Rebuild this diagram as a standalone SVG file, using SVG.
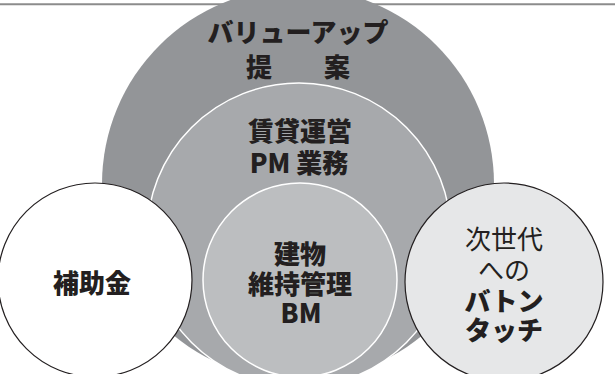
<svg xmlns="http://www.w3.org/2000/svg" width="615" height="374" viewBox="0 0 615 374">
<style>
.t{font-family:"Noto Sans CJK JP","Noto Sans",sans-serif;font-size:26px;font-weight:900;fill:#231f20;text-anchor:middle;dominant-baseline:central}
.r{font-weight:normal}
.ring{stroke:#ffffff;stroke-width:1.5}
.side{stroke:#231f20;stroke-width:1.2}
</style>
<rect width="615" height="374" fill="#ffffff"/>
<line x1="0" y1="4.3" x2="615" y2="4.3" stroke="#8c8c8c" stroke-width="2"/>
<g id="connectors"/>
<g id="value-up">
<circle cx="298" cy="184" r="196" fill="#939598"/>
<text class="t" x="298" y="30">バリューアップ</text>
<text class="t" x="298" y="65">提　　案</text>
</g>
<g id="pm">
<circle class="ring" cx="299" cy="235" r="152" fill="#a7a9ac"/>
<text class="t" x="300" y="129">賃貸運営</text>
<text class="t" x="299" y="161">PM 業務</text>
</g>
<g id="bm">
<circle class="ring" cx="300" cy="280" r="97" fill="#bcbec0"/>
<text class="t" x="300" y="252">建物</text>
<text class="t" x="300" y="282">維持管理</text>
<text class="t" x="301" y="311">BM</text>
</g>
<g id="subsidy">
<circle class="side" cx="95" cy="280" r="97" fill="#ffffff"/>
<text class="t" x="92" y="281">補助金</text>
</g>
<g id="baton">
<circle class="side" cx="504" cy="282" r="99" fill="#e6e7e8"/>
<text class="t r" x="504" y="237">次世代</text>
<text class="t r" x="504" y="268">への</text>
<text class="t" x="504" y="299">バトン</text>
<text class="t" x="504" y="328">タッチ</text>
</g>
</svg>
